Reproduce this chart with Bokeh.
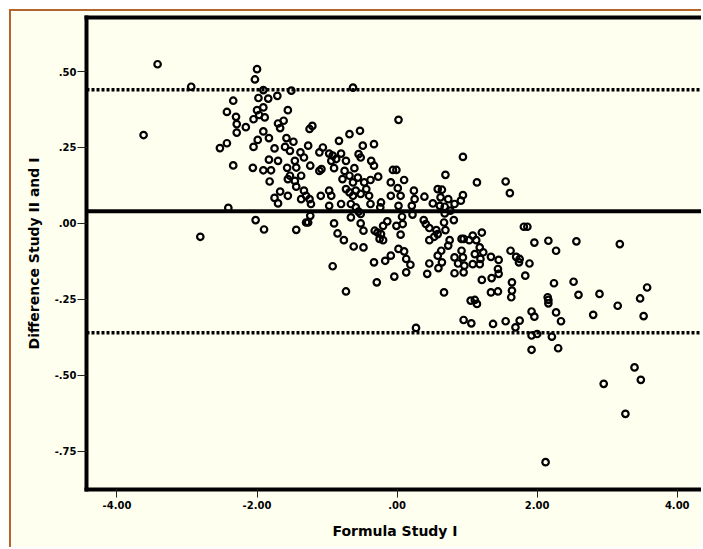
from bokeh.plotting import figure
from bokeh.models import Span, LinearAxis, FixedTicker
from bokeh.embed import file_html
from bokeh.resources import INLINE

# Formula Study I (x) vs. difference Study II - Study I (y)
formula_study_1 = [
    -3.42, -3.62, -2.94, -2.81, -2.41, -2.34, -2.43, -2.30, -2.29, -2.29,
    -2.43, -2.53, -2.34, -2.00, -2.03, -1.91, -1.71, -1.98, -1.84, -2.00,
    -1.91, -1.56, -2.05, -1.97, -1.89, -2.16, -1.70, -1.62, -1.67, -1.91,
    -1.58, -1.99, -1.83, -2.05, -1.75, -1.60, -1.83, -1.70, -2.06, -1.91,
    -1.80, -1.57, -1.53, -1.82, -1.67, -1.75, -1.70, -1.56, -1.56, -2.02,
    -1.90, -1.51, -0.63, 0.02, -1.21, -1.25, -0.68, -0.53, -0.83, -1.48,
    -1.27, -0.49, -0.33, -1.06, -1.38, -1.11, -0.97, -0.92, -0.87, -0.80,
    -0.55, -0.52, -1.46, -1.33, -0.94, -0.73, -0.37, -0.33, -1.44, -1.24,
    -1.11, -1.08, -0.90, -0.61, -0.75, -0.06, -0.01, -1.53, -1.37, -0.68,
    -0.56, -0.27, -1.46, -1.44, -0.78, -0.63, -0.47, -0.38, -0.09, 0.10,
    0.01, 0.24, 0.39, 0.58, -1.33, -1.30, -1.09, -0.97, -0.94, -0.73,
    -0.68, -0.63, -0.59, -0.52, -0.44, -0.40, -0.09, 0.05, -1.37, -1.25,
    -1.23, -0.97, -0.80, -0.66, -0.59, -0.55, -0.52, -0.38, -0.23, -0.24,
    0.02, 0.21, 0.25, 0.51, 0.61, -1.24, -1.30, -1.27, -1.44, -0.90,
    -0.66, -0.52, -0.48, -0.85, -0.76, -0.62, -0.48, -0.32, -0.28, -0.23,
    -0.25, -0.20, -0.14, -0.20, -0.01, 0.07, 0.08, 0.05, 0.22, 0.38,
    0.41, 0.46, 0.56, 0.58, 0.46, 0.02, 0.10, -0.09, -0.17, -0.33,
    0.13, 0.19, -0.92, -0.04, 0.13, -0.29, -0.73, 0.46, 0.58, 0.59,
    0.43, 0.94, 0.69, 1.14, 1.55, 1.61, 0.64, 0.62, 0.73, 0.82,
    0.94, 0.91, 0.68, 0.76, 0.68, 0.67, 0.69, 0.81, 0.53, 0.75,
    0.92, 0.95, 1.08, 1.13, 1.21, 1.03, 1.81, 1.86, 1.96, 2.16,
    2.27, 2.56, 0.63, 0.73, 0.82, 0.92, 0.94, 1.11, 1.18, 1.23,
    1.19, 1.34, 1.45, 1.62, 1.70, 1.75, 1.74, 1.89, 0.87, 0.96,
    1.08, 1.18, 1.44, 0.64, 0.82, 0.95, 1.21, 1.35, 1.45, 1.83,
    1.64, 1.64, 1.63, 0.67, 1.34, 1.44, 1.05, 1.11, 1.14, 2.24,
    2.52, 2.59, 2.15, 2.16, 2.16, 1.92, 1.96, 2.27, 2.34, 0.95,
    1.06, 1.37, 1.55, 1.75, 1.69, 1.92, 2.00, 2.21, 1.92, 2.30,
    3.18, 2.89, 3.15, 2.80, 3.57, 3.47, 3.52, 3.39, 3.48, 2.95,
    3.26, 2.12, 0.27,
]
difference_2_1 = [
    0.524, 0.291, 0.450, -0.044, 0.051, 0.404, 0.367, 0.351, 0.327, 0.299,
    0.264, 0.248, 0.191, 0.508, 0.474, 0.439, 0.420, 0.413, 0.411, 0.373,
    0.382, 0.373, 0.343, 0.357, 0.349, 0.317, 0.329, 0.338, 0.314, 0.303,
    0.281, 0.275, 0.281, 0.252, 0.247, 0.252, 0.210, 0.206, 0.183, 0.175,
    0.175, 0.183, 0.239, 0.138, 0.105, 0.084, 0.066, 0.091, 0.146, 0.011,
    -0.020, 0.437, 0.447, 0.341, 0.321, 0.311, 0.294, 0.305, 0.272, 0.269,
    0.256, 0.256, 0.261, 0.250, 0.234, 0.234, 0.230, 0.223, 0.212, 0.230,
    0.228, 0.217, 0.206, 0.217, 0.206, 0.206, 0.206, 0.190, 0.184, 0.190,
    0.173, 0.179, 0.182, 0.182, 0.173, 0.176, 0.176, 0.157, 0.157, 0.157,
    0.151, 0.154, 0.140, 0.121, 0.146, 0.135, 0.135, 0.143, 0.135, 0.143,
    0.116, 0.108, 0.088, 0.113, 0.108, 0.091, 0.091, 0.108, 0.091, 0.113,
    0.102, 0.091, 0.108, 0.097, 0.113, 0.091, 0.091, 0.091, 0.080, 0.080,
    0.064, 0.058, 0.064, 0.064, 0.053, 0.039, 0.031, 0.064, 0.069, 0.053,
    0.058, 0.058, 0.080, 0.066, 0.058, 0.025, 0.003, 0.003, -0.021, 0.000,
    0.020, 0.000, -0.024, -0.033, -0.055, -0.076, -0.079, -0.024, -0.030, -0.035,
    -0.051, -0.055, 0.007, -0.008, -0.008, 0.022, -0.002, -0.037, 0.029, 0.011,
    -0.002, -0.015, -0.022, -0.035, -0.055, -0.084, -0.092, -0.106, -0.123, -0.128,
    -0.117, -0.136, -0.141, -0.175, -0.161, -0.194, -0.224, -0.132, -0.106, -0.147,
    -0.166, 0.219, 0.160, 0.135, 0.138, 0.100, 0.111, 0.086, 0.080, 0.064,
    0.093, 0.075, 0.055, 0.042, 0.033, 0.003, -0.022, 0.011, -0.044, -0.055,
    -0.051, -0.051, -0.040, -0.055, -0.030, -0.055, -0.011, -0.011, -0.063, -0.057,
    -0.090, -0.059, -0.090, -0.073, -0.112, -0.090, -0.112, -0.101, -0.079, -0.095,
    -0.117, -0.110, -0.120, -0.090, -0.110, -0.117, -0.128, -0.132, -0.132, -0.139,
    -0.134, -0.134, -0.150, -0.128, -0.164, -0.161, -0.186, -0.180, -0.166, -0.172,
    -0.194, -0.221, -0.243, -0.227, -0.227, -0.224, -0.254, -0.252, -0.265, -0.197,
    -0.192, -0.235, -0.243, -0.252, -0.263, -0.290, -0.307, -0.293, -0.322, -0.318,
    -0.329, -0.331, -0.322, -0.320, -0.342, -0.369, -0.364, -0.373, -0.416, -0.411,
    -0.068, -0.232, -0.271, -0.301, -0.211, -0.247, -0.305, -0.474, -0.515, -0.528,
    -0.627, -0.786, -0.344,
]

mean_difference = 0.04
upper_limit = 0.44
lower_limit = -0.36

x_ticks = [-4, -2, 0, 2, 4]
x_tick_labels = ["-4.00", "-2.00", ".00", "2.00", "4.00"]
y_ticks = [0.5, 0.25, 0.0, -0.25, -0.5, -0.75]
y_tick_labels = [".50", ".25", ".00", "-.25", "-.50", "-.75"]

x_title = "Formula Study I"
y_title = "Difference Study II and I"

BG = "#FFFFF0"
FONT = "DejaVu Sans"

p = figure(width=692, height=538, output_backend="svg", toolbar_location=None,
           x_range=(-4.435, 4.375), y_range=(-0.876, 0.678),
           x_axis_location=None, y_axis_location=None,
           min_border_left=75, min_border_right=0, min_border_top=6,
           min_border_bottom=60)
p.background_fill_color = BG
p.border_fill_color = BG
p.outline_line_color = None
p.grid.visible = False
p.styles = {"margin-left": "9px", "margin-top": "9px",
            "border-left": "2px solid #B5652A", "border-top": "2px solid #B5652A"}

def style_axis(ax, tick_out, standoff, label_standoff):
    ax.axis_line_width = 4
    ax.axis_line_color = "black"
    ax.axis_line_cap = "square"
    ax.major_tick_out = tick_out
    ax.major_tick_in = 0
    ax.major_tick_line_width = 1
    ax.major_tick_line_color = "#222222"
    ax.minor_tick_line_color = None
    ax.major_label_standoff = standoff
    ax.major_label_text_font = FONT
    ax.major_label_text_font_style = "bold"
    ax.major_label_text_font_size = "10px"
    ax.major_label_text_color = "black"
    ax.axis_label_text_font = FONT
    ax.axis_label_text_font_style = "bold"
    ax.axis_label_text_font_size = "14px"
    ax.axis_label_text_color = "black"
    ax.axis_label_standoff = label_standoff

xax = LinearAxis(ticker=FixedTicker(ticks=x_ticks), axis_label=x_title,
                 major_label_overrides={t: l for t, l in zip(x_ticks, x_tick_labels)})
style_axis(xax, 8, 3, 11)
p.add_layout(xax, "below")

yax = LinearAxis(ticker=FixedTicker(ticks=y_ticks), axis_label=y_title,
                 major_label_overrides={t: l for t, l in zip(y_ticks, y_tick_labels)})
style_axis(yax, 9, 1, 10)
p.add_layout(yax, "left")

top = LinearAxis(ticker=FixedTicker(ticks=[]))
top.axis_line_width = 4
top.axis_line_color = "black"
top.axis_line_cap = "square"
top.major_tick_line_color = None
top.minor_tick_line_color = None
top.major_label_text_font_size = "0px"
top.major_label_standoff = 0
top.major_tick_out = 0
p.add_layout(top, "above")

p.add_layout(Span(location=upper_limit, dimension="width", line_color="black",
                  line_width=3.5, line_dash="3 2"))
p.add_layout(Span(location=lower_limit, dimension="width", line_color="black",
                  line_width=3.5, line_dash="3 2"))
p.add_layout(Span(location=mean_difference, dimension="width", line_color="black",
                  line_width=4))

p.scatter(formula_study_1, difference_2_1, marker="circle", size=6.5,
          fill_color=None, line_color="black", line_width=2.2)

open("out.html", "w").write(file_html(p, INLINE))
